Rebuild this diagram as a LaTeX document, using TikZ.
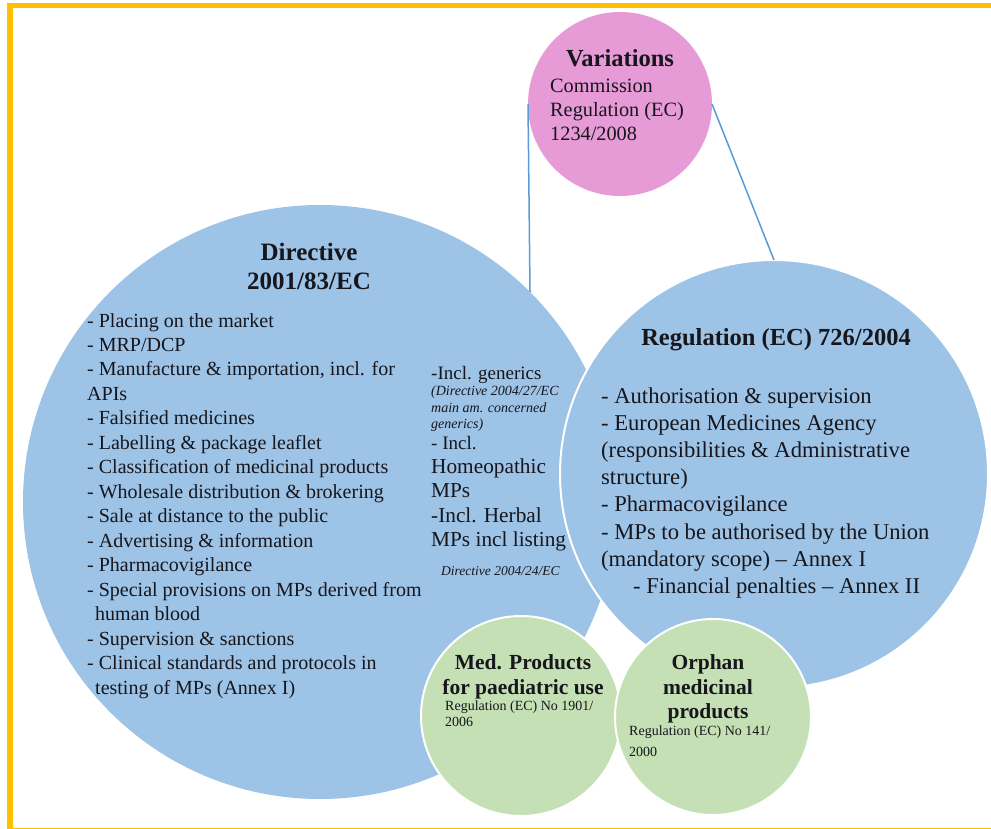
\documentclass[tikz,border=0pt]{standalone}
\usepackage{fontspec}
\setmainfont{Liberation Serif}
\definecolor{bluefill}{RGB}{157,195,230}
\definecolor{pinkfill}{RGB}{230,154,214}
\definecolor{greenfill}{RGB}{197,224,180}
\definecolor{linkblue}{RGB}{91,155,213}
\definecolor{frame}{RGB}{255,192,0}
\definecolor{txt}{RGB}{22,22,28}
\begin{document}
\begin{tikzpicture}[x=1pt,y=-1pt,
  bubble/.style={circle, inner sep=0, outer sep=0, draw=white, line width=2pt},
  link/.style={draw=linkblue, line width=1.5pt},
  tl/.style={inner sep=0, anchor=base west, text=txt},
  tc/.style={inner sep=0, anchor=base, text=txt},
  ttl/.style={tc, font=\fontsize{25}{29}\selectfont\bfseries},
  dli/.style={tl, font=\fontsize{20}{24}\selectfont},
  rli/.style={tl, font=\fontsize{22.6}{27}\selectfont},
  inc/.style={tl, font=\fontsize{19}{24}\selectfont},
  incbig/.style={tl, font=\fontsize{21.3}{25}\selectfont},
  incit/.style={tl, font=\fontsize{14}{17}\selectfont\itshape},
  gttl/.style={tc, font=\fontsize{21.5}{25}\selectfont\bfseries},
  gsm/.style={tl, font=\fontsize{14}{16}\selectfont}]
\useasboundingbox (0,0) rectangle (991,829);
\fill[white] (0,0) rectangle (991,829);
\draw[frame, line width=5.5pt] (10,5.5) rectangle (996,831);

% bubbles
\node[bubble, fill=bluefill, draw=none, minimum size=594pt] (dir) at (320,502) {};
\node[bubble, fill=bluefill, minimum size=428pt] (reg) at (774,474) {};
\node[bubble, fill=pinkfill, draw=none, minimum size=184pt] (var) at (620,104) {};
\node[bubble, fill=greenfill, minimum size=200pt] (med) at (521,716) {};
\node[bubble, fill=greenfill, minimum size=196pt] (orph) at (713,717) {};

% connectors
\draw[link] (var.west) -- (dir.45.5);
\draw[link] (var.east) -- (reg.north);

% Variations
\node[tc, font=\fontsize{24.5}{29}\selectfont\bfseries] (vart) at (620,67) {Variations};
\foreach \t [count=\i] in {Commission,{Regulation (EC)},1234/2008}
  \node[tl, font=\fontsize{20.3}{24}\selectfont] (varl\i) at (550,{93+24*(\i-1)}) {\t};

% Directive
\node[ttl] (dirt1) at (309,261) {Directive};
\node[ttl] (dirt2) at (309,290) {2001/83/EC};
\foreach \t [count=\i] in {
  {- Placing on the market},
  {- MRP/DCP},
  {- Manufacture \& importation, incl. for},
  {APIs},
  {- Falsified medicines},
  {- Labelling \& package leaflet},
  {- Classification of medicinal products},
  {- Wholesale distribution \& brokering},
  {- Sale at distance to the public},
  {- Advertising \& information},
  {- Pharmacovigilance},
  {- Special provisions on MPs derived from},
  {\hspace*{8pt}human blood},
  {- Supervision \& sanctions},
  {- Clinical standards and protocols in},
  {\hspace*{8pt}testing of MPs (Annex I)}}
  \node[dli] (dl\i) at (87,{327+24.47*(\i-1)}) {\t};

\node[inc] (inc1) at (431,379) {-Incl. generics};
\node[incit] (inc2) at (431,395.5) {(Directive 2004/27/EC};
\node[incit] (inc3) at (431,412) {main am. concerned};
\node[incit] (inc4) at (431,428.5) {generics)};
\node[inc] (inc5) at (431,449) {- Incl.};
\node[incbig] (inc6) at (431,473) {Homeopathic};
\node[incbig] (inc7) at (431,497) {MPs};
\node[incbig] (inc8) at (431,522) {-Incl. Herbal};
\node[incbig] (inc9) at (431,546) {MPs incl listing};
\node[incit, font=\fontsize{13.5}{17}\selectfont\itshape] (inc10) at (441,575) {Directive 2004/24/EC};

% Regulation 726/2004
\node[tc, font=\fontsize{24.5}{29}\selectfont\bfseries] (regt) at (776,345) {Regulation (EC) 726/2004};
\foreach \t [count=\i] in {
  {- Authorisation \& supervision},
  {- European Medicines Agency},
  {(responsibilities \& Administrative},
  {structure)},
  {- Pharmacovigilance},
  {- MPs to be authorised by the Union},
  {(mandatory scope) – Annex I},
  {\hspace*{32pt}- Financial penalties – Annex II}}
  \node[rli] (rl\i) at (601,{403.5+27.1*(\i-1)}) {\t};

% Paediatric
\node[gttl] (medt1) at (523,669) {Med. Products};
\node[gttl] (medt2) at (523,694) {for paediatric use};
\node[gsm] (medr1) at (445,710) {Regulation (EC) No 1901/};
\node[gsm] (medr2) at (445,726) {2006};

% Orphan
\node[gttl] (orpt1) at (708,669) {Orphan};
\node[gttl] (orpt2) at (708,694) {medicinal};
\node[gttl] (orpt3) at (708,718) {products};
\node[gsm] (orpr1) at (629,735) {Regulation (EC) No 141/};
\node[gsm] (orpr2) at (629,756) {2000};
\end{tikzpicture}
\end{document}
